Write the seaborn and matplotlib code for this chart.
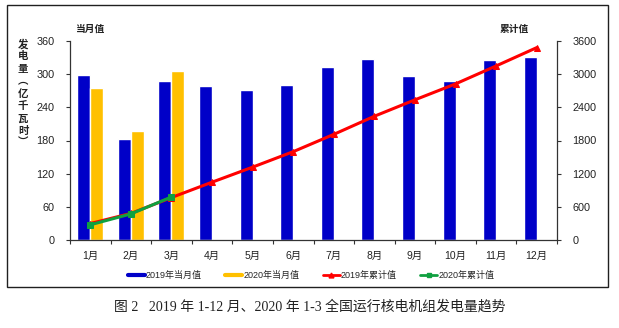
import matplotlib
matplotlib.use("Agg")
import matplotlib.pyplot as plt
from matplotlib.patches import Rectangle
from matplotlib.lines import Line2D
import seaborn as sns
import pandas as pd
import numpy as np

sns.set_theme(style="white")
plt.rcParams['font.family'] = ['Liberation Sans', 'Noto Sans CJK SC', 'DejaVu Sans']

months = ["1月", "2月", "3月", "4月", "5月", "6月", "7月", "8月", "9月", "10月", "11月", "12月"]
monthly_2019 = [298, 183, 287, 278, 272, 280, 313, 328, 297, 288, 325, 331]
monthly_2020 = [275, 197, 306]
cum_2019 = [298, 481, 768, 1046, 1318, 1598, 1911, 2239, 2536, 2824, 3149, 3480]
cum_2020 = [275, 472, 778]
left_ticks = [0, 60, 120, 180, 240, 300, 360]
right_ticks = [0, 600, 1200, 1800, 2400, 3000, 3600]

BLUE = "#0000C8"
YELLOW = "#FFC000"
RED = "#FF0000"
GREEN = "#10A040"

W, H = 619, 328
fig = plt.figure(figsize=(W / 100, H / 100), dpi=100)
fig.patch.set_facecolor("white")

# outer frame
fig.patches.append(Rectangle((7 / W, 1 - 287 / H), (608 - 7) / W, (287 - 5) / H,
                             transform=fig.transFigure, fill=False, edgecolor="#202020",
                             linewidth=1.0))

ax = fig.add_axes([70 / W, 1 - 240 / H, (557 - 70) / W, (240 - 41) / H])

rows = []
for i, m in enumerate(months):
    rows.append({"month": m, "series": "2019年当月值", "value": monthly_2019[i]})
    rows.append({"month": m, "series": "2020年当月值",
                 "value": monthly_2020[i] if i < len(monthly_2020) else np.nan})
df = pd.DataFrame(rows)

sns.barplot(data=df, x="month", y="value", hue="series", order=months,
            hue_order=["2019年当月值", "2020年当月值"],
            palette=[BLUE, YELLOW], width=0.64, dodge=True, saturation=1,
            ax=ax, legend=False, errorbar=None)

ax.set_ylim(0, 360)
ax.set_xlim(-0.5, 11.5)
ax.set_yticks(left_ticks)
ax.set_yticklabels([str(t) for t in left_ticks], fontsize=7.8, color="#222222")
ax.set_xlabel("")
ax.set_ylabel("")
ax.set_xticks(range(12))
ax.set_xticklabels(months, fontsize=7.5, color="#222222")
ax.set_xticks(np.arange(-0.5, 12, 1.0), minor=True)
ax.tick_params(axis="x", which="major", length=0, pad=8)
ax.tick_params(axis="x", which="minor", bottom=True, length=3, width=0.8,
               color="#333333", direction="out")
ax.tick_params(axis="y", left=True, length=3, width=0.8, color="#333333", pad=8)
for s in ["top", "right"]:
    ax.spines[s].set_visible(False)
for s in ["left", "bottom"]:
    ax.spines[s].set_color("#333333")
    ax.spines[s].set_linewidth(0.9)

ax2 = ax.twinx()
ax2.set_ylim(0, 3600)
ax2.set_yticks(right_ticks)
ax2.set_yticklabels([str(t) for t in right_ticks], fontsize=7.8, color="#222222")
ax2.tick_params(axis="y", right=True, length=3, width=0.8, color="#333333", pad=8)
for s in ["top", "left", "bottom"]:
    ax2.spines[s].set_visible(False)
ax2.spines["right"].set_color("#333333")
ax2.spines["right"].set_linewidth(0.9)
ax2.grid(False)

sns.lineplot(x=list(range(12)), y=cum_2019, ax=ax2, color=RED, lw=2.2,
             marker="^", markersize=5, markeredgecolor=RED, legend=False)
sns.lineplot(x=list(range(3)), y=cum_2020, ax=ax2, color=GREEN, lw=2.2,
             marker="s", markersize=5, markeredgecolor=GREEN, legend=False)
ax2.set_xlim(-0.5, 11.5)

cjk = ['Noto Sans CJK SC', 'DejaVu Sans']
fig.text(91 / W, 1 - 29 / H, "当月值", fontsize=7, fontweight="bold", family=cjk,
         ha="center", va="center", color="#222222")
fig.text(514 / W, 1 - 29 / H, "累计值", fontsize=7, fontweight="bold", family=cjk,
         ha="center", va="center", color="#222222")

ylab_chars = ["发", "电", "量", "︵", "亿", "千", "瓦", "时", "︶"]
for k, ch in enumerate(ylab_chars):
    fig.text(23 / W, 1 - (44 + k * 12.4) / H, ch, fontsize=7.5, fontweight="bold",
             family=cjk, ha="center", va="center", color="#222222")

handles = [Line2D([], [], color=BLUE, lw=3),
           Line2D([], [], color=YELLOW, lw=3),
           Line2D([], [], color=RED, lw=2, marker="^", markersize=3.5),
           Line2D([], [], color=GREEN, lw=2, marker="s", markersize=3.5)]
labels = ["2019年当月值", "2020年当月值", "2019年累计值", "2020年累计值"]
fig.legend(handles, labels, loc="center", bbox_to_anchor=(311 / W, 1 - 275.5 / H),
           ncol=4, frameon=False, handlelength=1.9, handletextpad=0.1,
           columnspacing=2.6, prop={"family": ['Liberation Sans', 'Noto Sans CJK SC'], "size": 6.5})

fig.text(310 / W, 1 - 307 / H, "图 2   2019 年 1-12 月、2020 年 1-3 全国运行核电机组发电量趋势",
         fontsize=10, family=['Liberation Serif', 'Noto Sans CJK SC'], fontweight="light",
         ha="center", va="center", color="#222222")

fig.savefig("out.png", dpi=100, facecolor="white")
